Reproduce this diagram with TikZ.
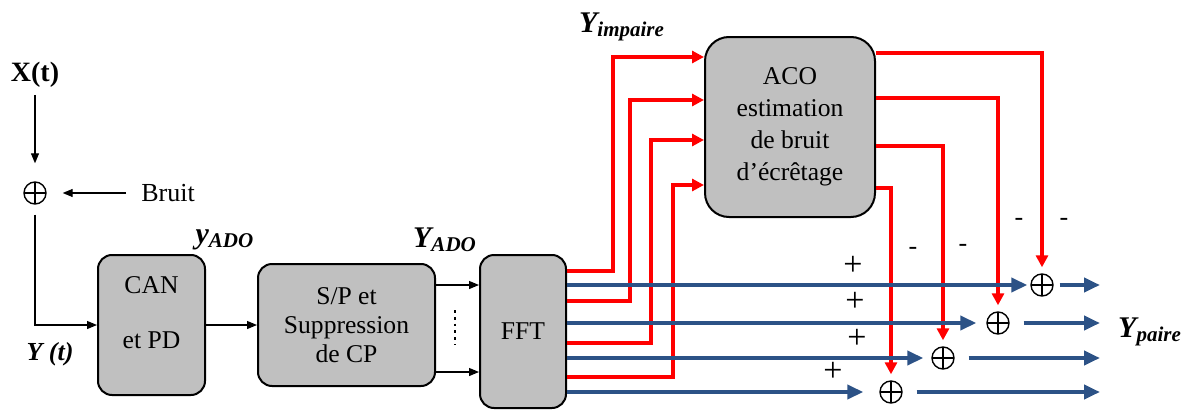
\documentclass[tikz,border=0pt]{standalone}
\usepackage{fontspec}
\setmainfont{Liberation Serif}
\usetikzlibrary{arrows.meta}
\definecolor{boxgray}{RGB}{192,192,192}
\definecolor{sigblue}{RGB}{44,82,134}
\tikzset{
  blk/.style={draw, line width=1pt, fill=boxgray, rounded corners=7pt, align=center, font=\fontsize{12.8}{14.5}\selectfont},
  sig/.style={-{Triangle[length=5pt,width=4pt]}, line width=0.6pt},
  redln/.style={draw=red, line width=2pt, -{Triangle[length=6pt,width=6pt]}},
  blueln/.style={draw=sigblue, line width=2pt, -{Triangle[length=8pt,width=7pt]}},
  summ/.style={circle, draw, line width=0.7pt, minimum size=11pt, inner sep=0pt,
    path picture={\draw[line width=0.7pt] (path picture bounding box.north) -- (path picture bounding box.south)
      (path picture bounding box.west) -- (path picture bounding box.east);}},
  lbl/.style={font=\fontsize{15}{18}\selectfont\bfseries\itshape},
  pm/.style={font=\fontsize{17}{19}\selectfont},
}
\begin{document}
\begin{tikzpicture}[x=0.5pt,y=-0.5pt]
\useasboundingbox (0,0) rectangle (1189,412);
\node[font=\fontsize{14}{16}\selectfont\bfseries] (xt) at (35,75) {X(t)};
\node[summ] (sum0) at (35,193) {};
\node[font=\fontsize{13}{15}\selectfont] (bruit) at (168,193) {Bruit};
\node[lbl, font=\fontsize{13}{15}\selectfont\bfseries\itshape] (yt) at (50,354) {Y (t)};
\node[blk, minimum width=53.5pt, minimum height=70pt] (can) at (151.5,325) {CAN\\[13pt]et PD\\[-2pt]\mbox{}};
\node[blk, minimum width=88.5pt, minimum height=61pt] (sp) at (346.5,325) {S/P et\\Suppression\\de CP};
\node[blk, minimum width=43pt, minimum height=76.5pt] (fft) at (523,331.5) {FFT};
\node[blk, minimum width=85pt, minimum height=90pt, rounded corners=12pt, font=\fontsize{12.8}{16}\selectfont] (aco) at (790,127) {ACO\\estimation\\de bruit\\d’écrêtage};
\node[lbl] (yado) at (225,240) {y\textsubscript{ADO}};
\node[lbl] (Yado) at (445,240) {Y\textsubscript{ADO}};
\node[lbl] (yimp) at (622,27) {Y\textsubscript{impaire}};
\node[lbl] (ypaire) at (1150,332) {Y\textsubscript{paire}};

\draw[sig, shorten >=9pt] (xt) -- (sum0);
\draw[sig, shorten >=8pt, shorten <=4pt] (bruit) -- (sum0);
\draw[sig, shorten <=5pt] (sum0) |- (can.west);
\draw[sig] (can) -- (sp);
\draw[sig] (sp.east |- 0,285) -- (fft.west |- 0,285);
\draw[sig] (sp.east |- 0,372) -- (fft.west |- 0,372);
\draw[line width=1.4pt, dotted] (455,310) -- (455,345);

\draw[redln] (fft.east |- 0,271) -| (613,57) -- (aco.west |- 0,57);
\draw[redln] (fft.east |- 0,301) -| (630,100) -- (aco.west |- 0,100);
\draw[redln] (fft.east |- 0,343) -| (651,140) -- (aco.west |- 0,140);
\draw[redln] (fft.east |- 0,377) -| (673,185) -- (aco.west |- 0,185);

\node[summ] (sum1) at (1042,285) {};
\node[summ] (sum2) at (998,323) {};
\node[summ] (sum3) at (943,358) {};
\node[summ] (sum4) at (891,392) {};
\coordinate (out1) at (1100,285);
\coordinate (out2) at (1100,323);
\coordinate (out3) at (1100,358);
\coordinate (out4) at (1100,392);

\draw[redln, shorten >=3pt] (aco.east |- 0,53) -| (sum1.north);
\draw[redln, shorten >=3pt] (aco.east |- 0,98) -| (sum2.north);
\draw[redln, shorten >=3pt] (aco.east |- 0,146) -| (sum3.north);
\draw[redln, shorten >=3pt] (aco.east |- 0,188) -| (sum4.north);

\draw[blueln, shorten >=1.5pt] (fft.east |- sum1) -- (sum1);
\draw[blueln, shorten >=5pt] (fft.east |- sum2) -- (sum2);
\draw[blueln, shorten >=4pt] (fft.east |- sum3) -- (sum3);
\draw[blueln, shorten >=8pt] (fft.east |- sum4) -- (sum4);
\draw[blueln, shorten <=3pt] (sum1) -- (out1);
\draw[blueln, shorten <=7pt] (sum2) -- (out2);
\draw[blueln, shorten <=7pt] (sum3) -- (out3);
\draw[blueln, shorten <=7pt] (sum4) -- (out4);

\node[pm] (plus1) at (853,266) {+};
\node[pm] (plus2) at (855,302) {+};
\node[pm] (plus3) at (857,339) {+};
\node[pm] (plus4) at (833,372) {+};
\node[pm, font=\fontsize{13}{15}\selectfont] (minus1) at (913,251) {-};
\node[pm, font=\fontsize{13}{15}\selectfont] (minus2) at (963,248) {-};
\node[pm, font=\fontsize{13}{15}\selectfont] (minus3) at (1019,222) {-};
\node[pm, font=\fontsize{13}{15}\selectfont] (minus4) at (1064,222) {-};
\end{tikzpicture}
\end{document}
